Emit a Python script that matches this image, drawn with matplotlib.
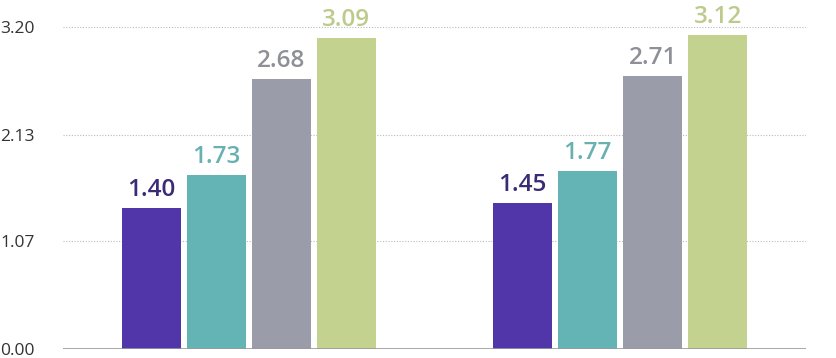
import matplotlib
matplotlib.use("Agg")
import matplotlib.pyplot as plt
import numpy as np

groups = ["Group A", "Group B"]
series_values = [
    [1.40, 1.45],
    [1.73, 1.77],
    [2.68, 2.71],
    [3.09, 3.12],
]
bar_colors = ["#5136a9", "#64b3b5", "#9a9ca9", "#c3d28f"]
label_colors = ["#3a2b76", "#68b0b2", "#8f9097", "#bccb8b"]
yticks = [0.00, 1.07, 2.13, 3.20]
ytick_labels = ["0.00", "1.07", "2.13", "3.20"]

plt.rcParams['font.family'] = ['Open Sans', 'DejaVu Sans']

fig = plt.figure(figsize=(8.36, 3.58), dpi=100)
ax = fig.add_axes([63 / 836, 9 / 358, 743 / 836, 349 / 358])

x = np.arange(len(groups))
step = 0.175
width = 0.159
for i, (vals, col, lcol) in enumerate(zip(series_values, bar_colors, label_colors)):
    pos = x + (i - 1.5) * step
    ax.bar(pos, vals, width=width, color=col, zorder=2)
    for p, v in zip(pos, vals):
        ax.text(p, v + 0.06, f"{v:.2f}", ha="center", va="bottom",
                fontsize=17.5, fontweight="semibold", color=lcol, zorder=3)

ax.set_xlim(-0.5, 1.5)
ax.set_ylim(0, 349 / 100.6)
ax.set_yticks(yticks)
ax.set_yticklabels(ytick_labels, fontsize=12.5, color="#333333")
ax.set_xticks([])
for t in ax.get_yticklabels():
    t.set_x(-63 / 743)
    t.set_ha("left")

for y in yticks[1:]:
    ax.axhline(y, color="#bbbbbb", lw=0.8, ls=(0, (1, 1.5)), zorder=1)
ax.axhline(0, color="#999999", lw=1.2, zorder=3)

for s in ax.spines.values():
    s.set_visible(False)
ax.tick_params(axis="y", length=0, pad=0)

fig.savefig("out.png", dpi=100)
